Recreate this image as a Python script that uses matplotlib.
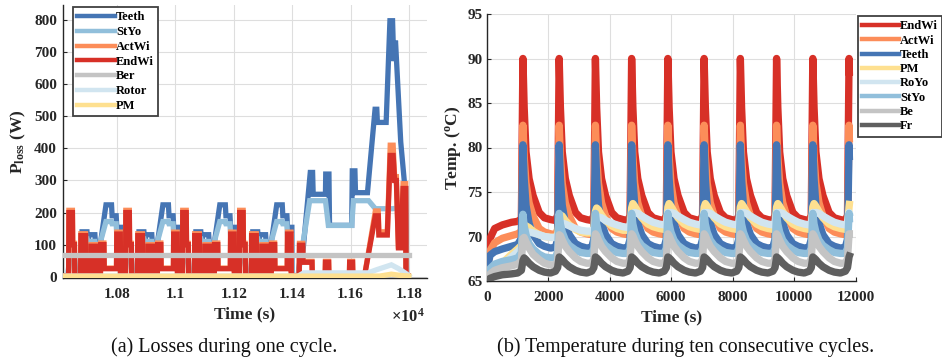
import matplotlib
matplotlib.use('Agg')
import matplotlib.pyplot as plt
from matplotlib.lines import Line2D

plt.rcParams['font.family'] = ['Liberation Serif', 'DejaVu Serif']
plt.rcParams['mathtext.fontset'] = 'custom'
plt.rcParams['mathtext.rm'] = 'Liberation Serif'
plt.rcParams['mathtext.bf'] = 'Liberation Serif:bold'
plt.rcParams['mathtext.it'] = 'Liberation Serif:italic'

# ================= (a) losses during one cycle =================
ece_starts = [10620, 10815, 11010, 11205]   # four urban sub-cycles
eudc_start = 11400                          # extra-urban part

# urban sub-cycle (time relative to sub-cycle start, s)
ece_t_wi = [0, 14, 15, 27, 28, 34, 35, 55, 56, 72, 73, 90, 91, 107, 108, 123, 124, 135, 136, 178, 179, 191, 192, 195]
endwi_ece = [3, 3, 200, 200, 100, 100, 3, 3, 128, 128, 3, 3, 95, 95, 3, 3, 100, 100, 25, 25, 133, 133, 3, 3]
actwi_ece = [3, 3, 207, 207, 104, 104, 3, 3, 134, 134, 3, 3, 100, 100, 3, 3, 105, 105, 27, 27, 139, 139, 3, 3]
ece_t_fe = [0, 12, 16, 34, 38, 56, 60, 77, 80, 84, 104, 108, 116, 142, 161, 163, 177, 179, 194, 195]
teeth_ece = [0, 0, 60, 60, 0, 0, 140, 140, 105, 131, 131, 75, 60, 224, 224, 190, 190, 154, 154, 0]
styo_ece = [0, 0, 50, 50, 0, 0, 118, 118, 100, 110, 110, 92, 85, 172, 172, 165, 165, 128, 128, 0]

# extra-urban part (time relative to its start, s)
eudc_t_wi = [0, 24, 25, 36, 37, 68, 69, 113, 114, 125, 126, 196, 197, 207, 208, 248, 285, 295, 297, 326,
             336, 346, 351, 357, 364, 372, 380, 389, 390, 398]
endwi_eudc = [3, 3, 98, 98, 45, 45, 3, 3, 45, 45, 3, 3, 45, 45, 3, 3, 190, 190, 130, 130,
              378, 378, 300, 300, 90, 90, 275, 275, 3, 3]
actwi_eudc = [3, 3, 104, 104, 48, 48, 3, 3, 48, 48, 3, 3, 48, 48, 3, 3, 205, 205, 140, 140,
              410, 410, 312, 312, 95, 95, 290, 290, 3, 3]
eudc_t_teeth = [0, 20, 25, 37, 62, 70, 72, 114, 115, 126, 128, 204, 206, 215, 217, 258, 284, 290, 292, 322,
                335, 344, 348, 354, 372, 385, 389, 392, 398]
teeth_eudc = [0, 0, 40, 80, 325, 325, 257, 257, 320, 320, 160, 160, 330, 330, 262, 262, 522, 522, 481, 481,
              798, 798, 672, 736, 420, 290, 280, 0, 0]
eudc_t_styo = [0, 20, 31, 60, 114, 124, 204, 210, 262, 285, 345, 365, 386, 392, 398]
styo_eudc = [0, 0, 70, 237, 237, 160, 160, 237, 237, 212, 212, 215, 205, 0, 0]

ber_t = [10620, 11800]
ber = [68, 68]
rotor_t = [10620, 11420, 11440, 11660, 11690, 11740, 11765, 11790, 11800]
rotor = [2, 2, 12, 12, 22, 37, 25, 10, 3]
pm_t = [10620, 11700, 11740, 11770, 11800]
pm = [1.5, 2, 8, 4, 2]

loss_xticks = [10800, 11000, 11200, 11400, 11600, 11800]
loss_xticklabels = ['1.08', '1.1', '1.12', '1.14', '1.16', '1.18']
loss_yticks = [0, 100, 200, 300, 400, 500, 600, 700, 800]


def build(ece_t, ece_v, eu_t, eu_v):
    tt, vv = [], []
    for s in ece_starts:
        tt += [s + x for x in ece_t]
        vv += list(ece_v)
    tt += [eudc_start + x for x in eu_t]
    vv += list(eu_v)
    return tt, vv


loss_series = [
    ('Teeth', '#4575b4', build(ece_t_fe, teeth_ece, eudc_t_teeth, teeth_eudc)),
    ('StYo', '#91bfdb', build(ece_t_fe, styo_ece, eudc_t_styo, styo_eudc)),
    ('ActWi', '#fc8d59', build(ece_t_wi, actwi_ece, eudc_t_wi, actwi_eudc)),
    ('EndWi', '#d73027', build(ece_t_wi, endwi_ece, eudc_t_wi, endwi_eudc)),
    ('Ber', '#c4c4c4', (ber_t, ber)),
    ('Rotor', '#d1e5f0', (rotor_t, rotor)),
    ('PM', '#fee090', (pm_t, pm)),
]

# ================= (b) temperatures during ten cycles =================
temp_t = [0, 30, 100, 250, 500, 800, 1000, 1120, 1170,
          1210, 1270, 1370, 1500, 1700, 1870, 2070, 2230, 2300, 2350,
          2390, 2450, 2550, 2680, 2880, 3050, 3250, 3410, 3480, 3530,
          3570, 3630, 3730, 3860, 4060, 4230, 4430, 4590, 4660, 4710,
          4750, 4810, 4910, 5040, 5240, 5410, 5610, 5770, 5840, 5890,
          5930, 5990, 6090, 6220, 6420, 6590, 6790, 6950, 7020, 7070,
          7110, 7170, 7270, 7400, 7600, 7770, 7970, 8130, 8200, 8250,
          8290, 8350, 8450, 8580, 8780, 8950, 9150, 9310, 9380, 9430,
          9470, 9530, 9630, 9760, 9960, 10130, 10330, 10490, 10560, 10610,
          10650, 10710, 10810, 10940, 11140, 11310, 11510, 11670, 11740, 11790,
          11800]

endwi_T = [65.0, 67.5, 69.8, 70.9, 71.3, 71.6, 71.7, 72.0, 90.0,
           84.5, 79.5, 76.5, 74.6, 72.7, 72.1, 71.9, 71.8, 72.4, 90.0,
           84.5, 79.5, 76.5, 74.6, 72.7, 72.1, 71.9, 71.8, 72.4, 90.0,
           84.5, 79.5, 76.5, 74.6, 72.7, 72.1, 71.9, 71.8, 72.4, 90.0,
           84.5, 79.5, 76.5, 74.6, 72.7, 72.1, 71.9, 71.8, 72.4, 90.0,
           84.5, 79.5, 76.5, 74.6, 72.7, 72.1, 71.9, 71.8, 72.4, 90.0,
           84.5, 79.5, 76.5, 74.6, 72.7, 72.1, 71.9, 71.8, 72.4, 90.0,
           84.5, 79.5, 76.5, 74.6, 72.7, 72.1, 71.9, 71.8, 72.4, 90.0,
           84.5, 79.5, 76.5, 74.6, 72.7, 72.1, 71.9, 71.8, 72.4, 90.0,
           84.5, 79.5, 76.5, 74.6, 72.7, 72.1, 71.9, 71.8, 72.4, 90.0,
           88.5]
actwi_T = [65.0, 66.8, 68.4, 69.3, 69.8, 70.1, 70.3, 70.6, 82.5,
           79.0, 76.0, 73.8, 72.3, 70.9, 70.5, 70.3, 70.2, 70.8, 82.5,
           79.0, 76.0, 73.8, 72.3, 70.9, 70.5, 70.3, 70.2, 70.8, 82.5,
           79.0, 76.0, 73.8, 72.3, 70.9, 70.5, 70.3, 70.2, 70.8, 82.5,
           79.0, 76.0, 73.8, 72.3, 70.9, 70.5, 70.3, 70.2, 70.8, 82.5,
           79.0, 76.0, 73.8, 72.3, 70.9, 70.5, 70.3, 70.2, 70.8, 82.5,
           79.0, 76.0, 73.8, 72.3, 70.9, 70.5, 70.3, 70.2, 70.8, 82.5,
           79.0, 76.0, 73.8, 72.3, 70.9, 70.5, 70.3, 70.2, 70.8, 82.5,
           79.0, 76.0, 73.8, 72.3, 70.9, 70.5, 70.3, 70.2, 70.8, 82.5,
           79.0, 76.0, 73.8, 72.3, 70.9, 70.5, 70.3, 70.2, 70.8, 82.5,
           81.0]
teeth_T = [65.0, 66.8, 67.9, 68.3, 68.6, 68.9, 69.1, 69.8, 80.3,
           76.5, 73.5, 71.5, 70.2, 69.2, 68.9, 68.7, 68.8, 69.7, 80.3,
           76.5, 73.5, 71.5, 70.2, 69.2, 68.9, 68.7, 68.8, 69.7, 80.3,
           76.5, 73.5, 71.5, 70.2, 69.2, 68.9, 68.7, 68.8, 69.7, 80.3,
           76.5, 73.5, 71.5, 70.2, 69.2, 68.9, 68.7, 68.8, 69.7, 80.3,
           76.5, 73.5, 71.5, 70.2, 69.2, 68.9, 68.7, 68.8, 69.7, 80.3,
           76.5, 73.5, 71.5, 70.2, 69.2, 68.9, 68.7, 68.8, 69.7, 80.3,
           76.5, 73.5, 71.5, 70.2, 69.2, 68.9, 68.7, 68.8, 69.7, 80.3,
           76.5, 73.5, 71.5, 70.2, 69.2, 68.9, 68.7, 68.8, 69.7, 80.3,
           76.5, 73.5, 71.5, 70.2, 69.2, 68.9, 68.7, 68.8, 69.7, 80.3,
           79.0]
pm_T = [65.0, 65.1, 65.4, 66.0, 67.0, 68.0, 68.6, 69.0, 69.8,
        70.8, 71.2, 71.0, 70.6, 70.2, 70.0, 69.9, 69.9, 70.2, 72.0,
        72.4, 72.3, 71.8, 71.3, 70.8, 70.5, 70.4, 70.4, 70.7, 72.8,
        73.2, 73.0, 72.4, 71.8, 71.2, 70.9, 70.7, 70.7, 71.0, 73.2,
        73.7, 73.4, 72.8, 72.1, 71.4, 71.1, 70.9, 70.8, 71.1, 73.3,
        73.7, 73.4, 72.8, 72.1, 71.4, 71.1, 70.9, 70.8, 71.1, 73.3,
        73.7, 73.4, 72.8, 72.1, 71.4, 71.1, 70.9, 70.8, 71.1, 73.3,
        73.7, 73.4, 72.8, 72.1, 71.4, 71.1, 70.9, 70.8, 71.1, 73.3,
        73.7, 73.4, 72.8, 72.1, 71.4, 71.1, 70.9, 70.8, 71.1, 73.3,
        73.7, 73.4, 72.8, 72.1, 71.4, 71.1, 70.9, 70.8, 71.1, 73.3,
        73.6]
royo_T = [65.0, 65.1, 65.3, 65.9, 66.8, 67.7, 68.3, 68.7, 69.3,
          70.0, 70.4, 70.5, 70.4, 70.2, 70.0, 69.9, 69.9, 70.0, 70.9,
          71.3, 71.5, 71.4, 71.2, 70.9, 70.7, 70.6, 70.6, 70.8, 71.8,
          72.1, 72.2, 72.1, 71.8, 71.5, 71.3, 71.1, 71.0, 71.2, 72.4,
          72.6, 72.7, 72.6, 72.3, 71.9, 71.6, 71.4, 71.3, 71.5, 72.7,
          72.6, 72.7, 72.6, 72.3, 71.9, 71.6, 71.4, 71.3, 71.5, 72.7,
          72.6, 72.7, 72.6, 72.3, 71.9, 71.6, 71.4, 71.3, 71.5, 72.7,
          72.6, 72.7, 72.6, 72.3, 71.9, 71.6, 71.4, 71.3, 71.5, 72.7,
          72.6, 72.7, 72.6, 72.3, 71.9, 71.6, 71.4, 71.3, 71.5, 72.7,
          72.6, 72.7, 72.6, 72.3, 71.9, 71.6, 71.4, 71.3, 71.5, 72.7,
          72.6]
styo_T = [65.0, 65.8, 66.4, 66.9, 67.2, 67.4, 67.6, 68.2, 72.5,
          71.2, 70.2, 69.2, 68.6, 68.0, 67.7, 67.6, 67.6, 68.3, 72.6,
          71.4, 70.5, 69.6, 69.0, 68.5, 68.2, 68.1, 68.1, 68.7, 72.6,
          71.4, 70.5, 69.6, 69.0, 68.5, 68.2, 68.1, 68.1, 68.7, 72.6,
          71.4, 70.5, 69.6, 69.0, 68.5, 68.2, 68.1, 68.1, 68.7, 72.6,
          71.4, 70.5, 69.6, 69.0, 68.5, 68.2, 68.1, 68.1, 68.7, 72.6,
          71.4, 70.5, 69.6, 69.0, 68.5, 68.2, 68.1, 68.1, 68.7, 72.6,
          71.4, 70.5, 69.6, 69.0, 68.5, 68.2, 68.1, 68.1, 68.7, 72.6,
          71.4, 70.5, 69.6, 69.0, 68.5, 68.2, 68.1, 68.1, 68.7, 72.6,
          71.4, 70.5, 69.6, 69.0, 68.5, 68.2, 68.1, 68.1, 68.7, 72.6,
          72.0]
be_T = [65.0, 65.3, 65.8, 66.2, 66.5, 66.7, 66.9, 67.3, 69.8,
        69.9, 69.4, 68.7, 68.0, 67.4, 67.0, 66.8, 66.8, 67.3, 70.2,
        70.1, 69.6, 68.9, 68.3, 67.6, 67.2, 67.0, 67.0, 67.5, 70.3,
        70.1, 69.6, 68.9, 68.3, 67.6, 67.2, 67.0, 67.0, 67.5, 70.3,
        70.1, 69.6, 68.9, 68.3, 67.6, 67.2, 67.0, 67.0, 67.5, 70.3,
        70.1, 69.6, 68.9, 68.3, 67.6, 67.2, 67.0, 67.0, 67.5, 70.3,
        70.1, 69.6, 68.9, 68.3, 67.6, 67.2, 67.0, 67.0, 67.5, 70.3,
        70.1, 69.6, 68.9, 68.3, 67.6, 67.2, 67.0, 67.0, 67.5, 70.3,
        70.1, 69.6, 68.9, 68.3, 67.6, 67.2, 67.0, 67.0, 67.5, 70.3,
        70.1, 69.6, 68.9, 68.3, 67.6, 67.2, 67.0, 67.0, 67.5, 70.3,
        70.3]
fr_T = [65.0, 65.1, 65.3, 65.5, 65.7, 65.8, 65.9, 66.2, 67.3,
        67.6, 67.4, 67.0, 66.6, 66.2, 66.0, 65.9, 66.1, 66.5, 67.7,
        67.6, 67.4, 67.0, 66.6, 66.2, 66.0, 65.9, 66.1, 66.5, 67.7,
        67.6, 67.4, 67.0, 66.6, 66.2, 66.0, 65.9, 66.1, 66.5, 67.7,
        67.6, 67.4, 67.0, 66.6, 66.2, 66.0, 65.9, 66.1, 66.5, 67.7,
        67.6, 67.4, 67.0, 66.6, 66.2, 66.0, 65.9, 66.1, 66.5, 67.7,
        67.6, 67.4, 67.0, 66.6, 66.2, 66.0, 65.9, 66.1, 66.5, 67.7,
        67.6, 67.4, 67.0, 66.6, 66.2, 66.0, 65.9, 66.1, 66.5, 67.7,
        67.6, 67.4, 67.0, 66.6, 66.2, 66.0, 65.9, 66.1, 66.5, 67.7,
        67.6, 67.4, 67.0, 66.6, 66.2, 66.0, 65.9, 66.1, 66.5, 67.7,
        67.8]

temp_series = [
    ('EndWi', '#d73027', endwi_T),
    ('ActWi', '#fc8d59', actwi_T),
    ('Teeth', '#4575b4', teeth_T),
    ('PM', '#fee090', pm_T),
    ('RoYo', '#d1e5f0', royo_T),
    ('StYo', '#91bfdb', styo_T),
    ('Be', '#c4c4c4', be_T),
    ('Fr', '#5f5f5f', fr_T),
]
temp_xticks = [0, 2000, 4000, 6000, 8000, 10000, 12000]
temp_yticks = [65, 70, 75, 80, 85, 90, 95]

# ================= drawing =================
W, H = 942, 364
fig = plt.figure(figsize=(W / 100, H / 100), dpi=100)
dark = '#262626'


def px_axes(l, t, r, b):
    return fig.add_axes([l / W, 1 - b / H, (r - l) / W, (b - t) / H])


def style(ax):
    for s in ('top', 'right'):
        ax.spines[s].set_visible(False)
    for s in ('left', 'bottom'):
        ax.spines[s].set_color(dark)
        ax.spines[s].set_linewidth(1.0)
    ax.grid(True, color='#dedede', linewidth=0.8)
    ax.set_axisbelow(True)
    ax.tick_params(direction='in', length=3, width=0.8, color=dark, labelcolor=dark,
                   labelsize=11)
    for lab in ax.get_xticklabels() + ax.get_yticklabels():
        lab.set_fontweight('bold')


# ---- left ----
axL = px_axes(62.5, 5, 427, 278)
for name, col, (tt, vv) in loss_series:
    axL.plot(tt, vv, color=col, lw=3.8, solid_joinstyle='miter', zorder=3)
axL.set_xlim(10613, 11862)
axL.set_ylim(-4, 847)
axL.set_xticks(loss_xticks)
axL.set_xticklabels(loss_xticklabels)
axL.set_yticks(loss_yticks)
style(axL)
axL.tick_params(axis='x', pad=7)
axL.tick_params(axis='y', pad=4)
axL.set_xlabel('Time (s)', fontsize=12.5, fontweight='bold', color=dark, labelpad=4)
axL.set_ylabel(r'$\mathbf{P_{loss}}$ (W)', fontsize=12.5, fontweight='bold', color=dark, labelpad=4)
fig.text(425 / W, 1 - 317 / H, '×10$^{\\mathbf{4}}$', ha='right', va='center',
         fontsize=12, fontweight='bold', color=dark)

hL = [Line2D([], [], color=c, lw=3.2) for _, c, _ in loss_series]
legL = fig.legend(hL, [n for n, _, _ in loss_series], loc='upper left',
                  bbox_to_anchor=(73 / W, 1 - 7 / H), borderaxespad=0,
                  prop={'family': 'Liberation Serif', 'weight': 'bold', 'size': 9},
                  handlelength=3.0, handletextpad=0.1, labelspacing=0.22,
                  borderpad=0.35, fancybox=False, framealpha=1, edgecolor='#404040')
legL.get_frame().set_linewidth(1.3)

# ---- right ----
axR = px_axes(487, 14, 855.5, 281)
for name, col, vv in temp_series:
    axR.plot(temp_t, vv, color=col, lw=5.3, zorder=3)
axR.set_xlim(0, 12000)
axR.set_ylim(65, 95)
axR.set_xticks(temp_xticks)
axR.set_yticks(temp_yticks)
style(axR)
axR.tick_params(axis='x', pad=7)
axR.tick_params(axis='y', pad=3)
axR.set_xlabel('Time (s)', fontsize=12.5, fontweight='bold', color=dark, labelpad=4)
axR.set_ylabel(r'Temp. ($^{\mathbf{o}}$C)', fontsize=12.5, fontweight='bold', color=dark, labelpad=3)

hR = [Line2D([], [], color=c, lw=3.2) for _, c, _ in temp_series]
legR = fig.legend(hR, [n for n, _, _ in temp_series], loc='upper left',
                  bbox_to_anchor=(858 / W, 1 - 16 / H), borderaxespad=0,
                  prop={'family': 'Liberation Serif', 'weight': 'bold', 'size': 9},
                  handlelength=2.9, handletextpad=0.1, labelspacing=0.18,
                  borderpad=0.35, fancybox=False, framealpha=1, edgecolor='#404040')
legR.get_frame().set_linewidth(1.3)

# captions
fig.text(337 / W, 1 - 347 / H, '(a) Losses during one cycle.', ha='right', va='center',
         fontsize=14.5, color='#111111')
fig.text(497 / W, 1 - 347 / H, '(b) Temperature during ten consecutive cycles.', ha='left',
         va='center', fontsize=14.5, color='#111111')

fig.savefig('out.png', dpi=100)
